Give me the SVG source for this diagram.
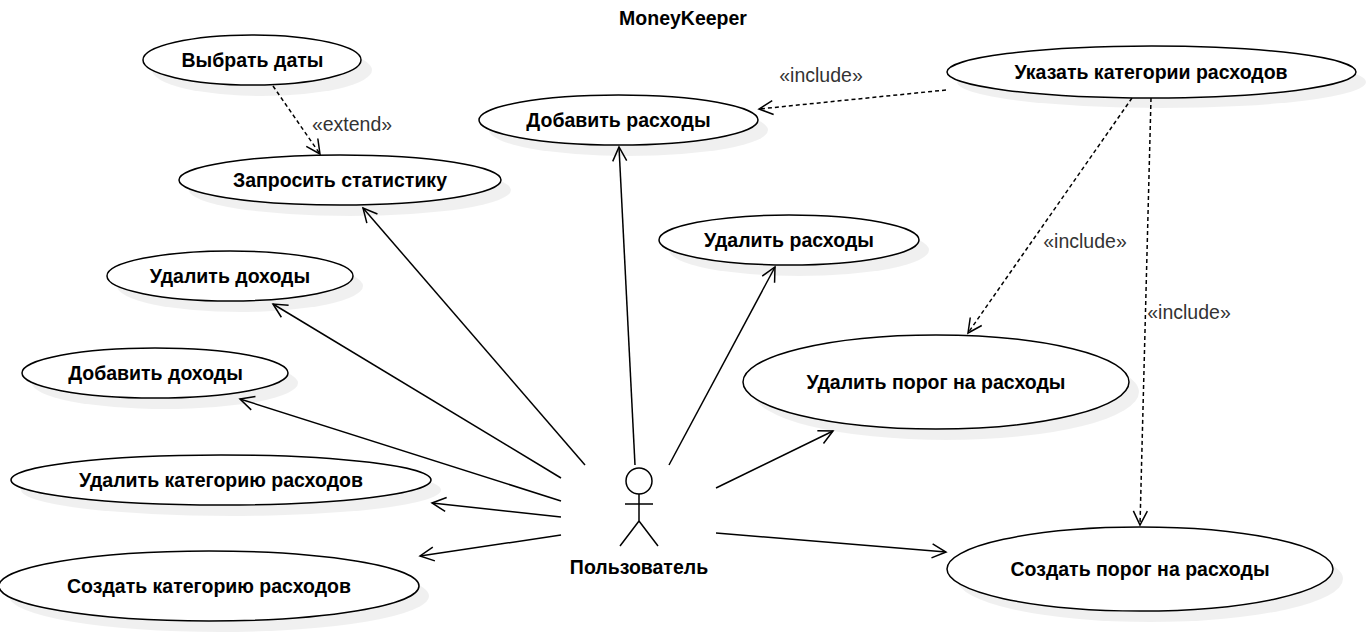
<svg xmlns="http://www.w3.org/2000/svg" width="1372" height="638" viewBox="0 0 1372 638">
<style>
text{font-family:"Liberation Sans",Arial,sans-serif;fill:#000}
.t{font-size:19.5px;font-weight:bold;text-anchor:middle}
.l{font-size:19.5px;fill:#333;text-anchor:middle}
.e{fill:#fff;stroke:#000;stroke-width:1.5}
.s{fill:#000;opacity:.06;stroke:none}
.c{fill:none;stroke:#000;stroke-width:1.5}
.d{stroke-dasharray:4 3}
</style>
<defs><marker id="a" markerWidth="20" markerHeight="20" refX="15" refY="8" orient="auto" markerUnits="userSpaceOnUse"><path d="M1 1 L15 8 L1 15" fill="none" stroke="#000" stroke-width="1.5"/></marker></defs>
<rect width="1372" height="638" fill="#fff"/>
<text class="t" x="683" y="25">MoneyKeeper</text>
<g id="connectors">
<path class="c d" d="M273 86L320 154" marker-end="url(#a)"/>
<path class="c d" d="M946 90L759 109" marker-end="url(#a)"/>
<path class="c d" d="M1132 98L968 333" marker-end="url(#a)"/>
<path class="c d" d="M1151 98L1140 525" marker-end="url(#a)"/>
<path class="c" d="M585 465L363 208" marker-end="url(#a)"/>
<path class="c" d="M635 465L619 147" marker-end="url(#a)"/>
<path class="c" d="M669 465L775 267" marker-end="url(#a)"/>
<path class="c" d="M561 478L273 304" marker-end="url(#a)"/>
<path class="c" d="M561 501L240 399" marker-end="url(#a)"/>
<path class="c" d="M561 517L432 503" marker-end="url(#a)"/>
<path class="c" d="M561 535L420 556" marker-end="url(#a)"/>
<path class="c" d="M716 488L833 431" marker-end="url(#a)"/>
<path class="c" d="M716 533L946 552" marker-end="url(#a)"/>
<text class="l" x="352" y="131">«extend»</text>
<text class="l" x="821" y="82">«include»</text>
<text class="l" x="1085" y="248">«include»</text>
<text class="l" x="1189" y="319">«include»</text>
</g>
<g id="n1"><ellipse class="s" cx="262" cy="70" rx="110" ry="26"/><ellipse class="e" cx="252" cy="60" rx="109" ry="25"/><text class="t" x="252.500" y="67">Выбрать даты</text></g>
<g id="n2"><ellipse class="s" cx="350" cy="190" rx="161" ry="26"/><ellipse class="e" cx="340" cy="180" rx="161" ry="25"/><text class="t" x="340" y="187">Запросить статистику</text></g>
<g id="n3"><ellipse class="s" cx="240" cy="286" rx="123" ry="26"/><ellipse class="e" cx="230" cy="276" rx="123" ry="25"/><text class="t" x="230" y="283">Удалить доходы</text></g>
<g id="n4"><ellipse class="s" cx="165" cy="383" rx="133" ry="26"/><ellipse class="e" cx="155" cy="373" rx="133" ry="25"/><text class="t" x="155.500" y="379.500">Добавить доходы</text></g>
<g id="n5"><ellipse class="s" cx="231" cy="490" rx="210" ry="26"/><ellipse class="e" cx="221" cy="480" rx="210" ry="25"/><text class="t" x="221" y="487">Удалить категорию расходов</text></g>
<g id="n6"><ellipse class="s" cx="219" cy="596" rx="210" ry="36"/><ellipse class="e" cx="209" cy="586" rx="210" ry="35"/><text class="t" x="209" y="593">Создать категорию расходов</text></g>
<g id="n7"><ellipse class="s" cx="628.500" cy="130" rx="139.500" ry="26"/><ellipse class="e" cx="618.500" cy="120" rx="139.500" ry="25"/><text class="t" x="618.500" y="127">Добавить расходы</text></g>
<g id="n8"><ellipse class="s" cx="799" cy="250" rx="130" ry="26"/><ellipse class="e" cx="789" cy="240" rx="130" ry="25"/><text class="t" x="789" y="247">Удалить расходы</text></g>
<g id="n9"><ellipse class="s" cx="1161.500" cy="82" rx="204.500" ry="26"/><ellipse class="e" cx="1151.500" cy="72" rx="204.500" ry="26"/><text class="t" x="1151" y="79">Указать категории расходов</text></g>
<g id="n10"><ellipse class="s" cx="946" cy="392" rx="193" ry="48"/><ellipse class="e" cx="936" cy="382" rx="193" ry="47"/><text class="t" x="936" y="389">Удалить порог на расходы</text></g>
<g id="n11"><ellipse class="s" cx="1150" cy="579" rx="193" ry="43"/><ellipse class="e" cx="1140" cy="569" rx="193" ry="42"/><text class="t" x="1140" y="576">Создать порог на расходы</text></g>
<g id="actor"><circle class="c" cx="639" cy="481" r="13"/><path class="c" d="M639 494V521M625 504H653M639 521L620 546M639 521L658 546"/><text class="t" x="639" y="574">Пользователь</text></g>
</svg>
